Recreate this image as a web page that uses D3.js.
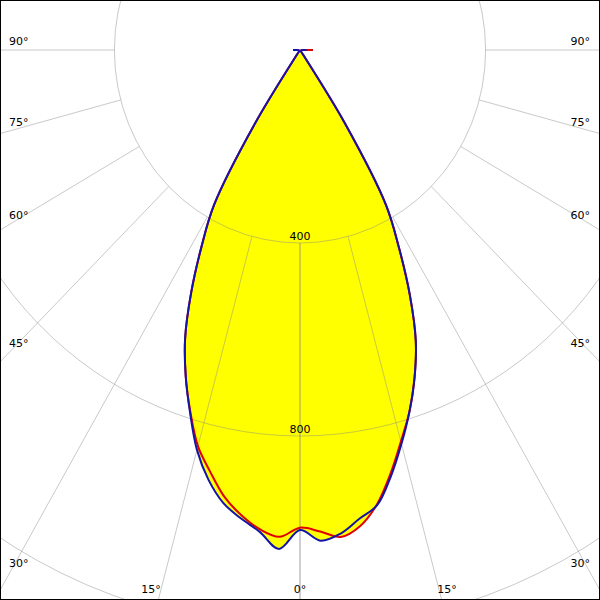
<!DOCTYPE html>
<html><head><meta charset="utf-8">
<script src="https://cdn.jsdelivr.net/npm/d3@7"></script>
<style>body{margin:0;background:#fff}svg{display:block}</style>
</head><body>
<svg id="c" width="600" height="600"></svg>
<script>
// gamma angles (degrees from nadir)
const angles = [0,2.5,5,7.5,10,12.5,15,17.5,20,22.5,25,27.5,30,32.5,35,37.5,40,42.5,45,47.5,50,52.5,55,57.5,60,62.5,65,67.5,70,72.5,75,77.5,80,82.5,85,87.5,90];
// C0-C180 plane (blue), left and right halves, cd
const blueLeft  = [995,1035,1002,979,953,912,858,788,720,647,555,460,370,180,10,3,3,3,3,3,3,3,3,3,3,3,3,3,3,3,3,3,3,3,3,3,15];
const blueRight = [995,1018,1006,980,958,905,845,785,722,652,560,462,370,180,10,3,3,3,3,3,3,3,3,3,3,3,3,3,3,3,3,3,3,3,3,3,14];
// C90-C270 plane (red)
const redLeft   = [990,1010,997,972,940,895,850,786,720,647,555,460,370,180,10,3,3,3,3,3,3,3,3,3,3,3,3,3,3,3,3,3,3,3,3,3,15];
const redRight  = [990,999,1013,995,956,900,840,785,722,652,560,462,370,180,10,3,3,3,3,3,3,3,3,3,3,3,3,3,3,3,3,3,3,3,3,3,28];
// grid
const ringValues = [400, 800, 1200];
const ringLabels = ["400", "800"];
const spokeAngles = [0, 15, 30, 45, 60, 75, 90];
const spokeLabels = ["0°", "15°", "30°", "45°", "60°", "75°", "90°"];

const W = 600, H = 600, cx = 300, cy = 50;
const rx = d3.scaleLinear().domain([0, 800]).range([0, 371.2]);
const ry = d3.scaleLinear().domain([0, 800]).range([0, 386]);
const rad = d => d * Math.PI / 180;
const pt = (side, a, v) => [cx + side * rx(v) * Math.sin(rad(a)), cy + ry(v) * Math.cos(rad(a))];

const svg = d3.select("#c");
const font = "DejaVu Sans, sans-serif";

function curvePoints(left, right) {
  const pts = [];
  for (let i = angles.length - 1; i >= 0; i--) pts.push(pt(-1, angles[i], left[i]));
  for (let i = 1; i < angles.length; i++) pts.push(pt(1, angles[i], right[i]));
  return pts;
}
const line = d3.line().curve(d3.curveCatmullRom.alpha(0.5));
const bluePts = curvePoints(blueLeft, blueRight);
const redPts = curvePoints(redLeft, redRight);

// fills
svg.append("path").attr("d", line(redPts) + "Z").attr("fill", "#ffff00");
svg.append("path").attr("d", line(bluePts) + "Z").attr("fill", "#ffff00");

// grid
const g = svg.append("g").attr("stroke", "#888").attr("stroke-opacity", 0.45).attr("fill", "none").attr("stroke-width", 1);
ringValues.forEach(v => {
  g.append("ellipse").attr("cx", cx).attr("cy", cy).attr("rx", rx(v)).attr("ry", ry(v));
});
spokeAngles.forEach(a => {
  [-1, 1].forEach(s => {
    const p0 = pt(s, a, ringValues[0]), p1 = pt(s, a, 3000);
    g.append("line").attr("x1", p0[0]).attr("y1", p0[1]).attr("x2", p1[0]).attr("y2", p1[1]);
  });
});

// curves
svg.append("path").attr("d", line(redPts)).attr("fill", "none").attr("stroke", "#e00000").attr("stroke-width", 2).attr("stroke-linejoin", "round");
svg.append("path").attr("d", line(bluePts)).attr("fill", "none").attr("stroke", "#1414a8").attr("stroke-width", 2).attr("stroke-linejoin", "round");

// ring labels
ringLabels.forEach((t, i) => {
  const v = ringValues[i];
  svg.append("text").attr("x", cx).attr("y", cy + ry(v) - 3).attr("text-anchor", "middle")
    .attr("font-family", font).attr("font-size", 11).attr("fill", "#000").text(t);
});

// spoke labels
spokeAngles.forEach((a, i) => {
  const t = spokeLabels[i];
  if (a === 0) {
    svg.append("text").attr("x", cx).attr("y", 593).attr("text-anchor", "middle")
      .attr("font-family", font).attr("font-size", 11).text(t);
    return;
  }
  const s = Math.sin(rad(a)), c = Math.cos(rad(a));
  const k = (cx - 10) / (s * rx(1));
  const yEdge = cy + k * c * ry(1);
  if (yEdge <= 585) {
    svg.append("text").attr("x", 9).attr("y", yEdge - 5).attr("text-anchor", "start")
      .attr("font-family", font).attr("font-size", 11).text(t);
    svg.append("text").attr("x", 590).attr("y", yEdge - 5).attr("text-anchor", "end")
      .attr("font-family", font).attr("font-size", 11).text(t);
  } else {
    const kk = (590 - cy) / (c * ry(1));
    const dx = kk * s * rx(1);
    svg.append("text").attr("x", cx - dx).attr("y", 593).attr("text-anchor", "end")
      .attr("font-family", font).attr("font-size", 11).text(t);
    svg.append("text").attr("x", cx + dx - 2).attr("y", 593).attr("text-anchor", "start")
      .attr("font-family", font).attr("font-size", 11).text(t);
  }
});

// border
svg.append("rect").attr("x", 0.5).attr("y", 0.5).attr("width", W - 1).attr("height", H - 1)
  .attr("fill", "none").attr("stroke", "#000").attr("stroke-width", 1);
</script>
</body></html>
